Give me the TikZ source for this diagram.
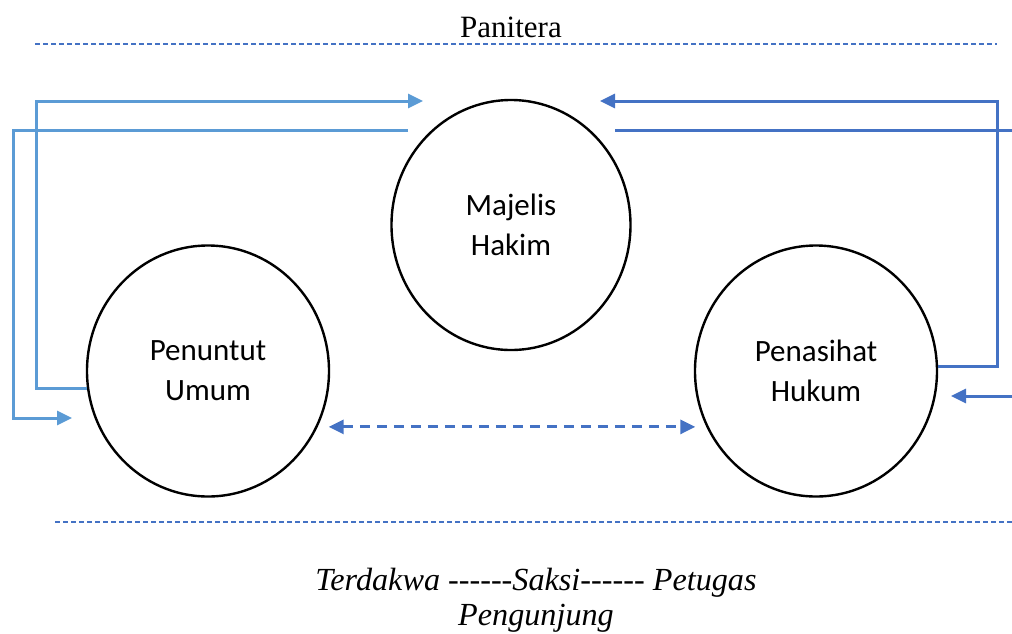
\documentclass[tikz,border=0pt]{standalone}
\usepackage{fontspec}
\setmainfont{Liberation Serif}[Ligatures=TeXOff]
\newfontfamily\carlito{Carlito}
\usetikzlibrary{shapes.geometric,arrows.meta,calc}
\definecolor{lblue}{HTML}{5B9BD5}
\definecolor{dblue}{HTML}{4472C4}
\tikzset{
  party/.style={ellipse, draw=black, line width=2.4pt, minimum width=242pt, minimum height=251pt, inner sep=0pt, align=center, font=\carlito\fontsize{31}{40}\selectfont},
  lconn/.style={draw=lblue, line width=3pt},
  rconn/.style={draw=dblue, line width=3pt},
  tip/.style={-{Triangle[length=15pt,width=14pt]}},
  sepline/.style={draw=dblue, line width=1.2pt, dash pattern=on 5pt off 3pt},
  dasharrow/.style={draw=dblue, line width=3pt, dash pattern=on 10pt off 7pt, {Triangle[length=15pt,width=14pt]}-{Triangle[length=15pt,width=14pt]}, shorten <=11pt, shorten >=11pt},
  label/.style={font=\fontsize{31}{35}\selectfont, inner sep=0pt, anchor=base},
  btext/.style={label, font=\itshape\fontsize{32.2}{35}\selectfont}
}
\begin{document}
\begin{tikzpicture}[x=1pt,y=-1pt]
\useasboundingbox (0,0) rectangle (1012,633);
% title and separators
\node[label] (panitera) at (511,37) {Panitera};
\coordinate (s1a) at (35,44);
\coordinate (s1b) at (997,44);
\draw[sepline] (s1a) -- (s1b);
\coordinate (s2a) at (55,522);
\coordinate (s2b) at (1012,522);
\draw[sepline] (s2a) -- (s2b);
% parties
\node[party, minimum width=239pt, minimum height=250pt] (mh) at (511,225) {Majelis\\Hakim};
\node[party] (pu) at (208,371) {Penuntut\\Umum};
\node[party] (pe) at (816,371) {Penasihat\\Hukum};
% left connectors
\coordinate (xa) at (36,0);
\coordinate (a1) at (423,101);
\draw[lconn,tip] (pu.188) -- (pu.188 -| xa) |- (a1);
\coordinate (b0) at (408,130);
\coordinate (xb) at (13,0);
\coordinate (b1) at (72,418);
\draw[lconn,tip] (b0) -- (b0 -| xb) |- (b1);
% right connectors
\coordinate (xc) at (997,0);
\coordinate (c1) at (600,101);
\draw[rconn,tip] (pe.2) -- (pe.2 -| xc) |- (c1);
\coordinate (d0) at (615,130);
\coordinate (d1) at (1012,130);
\draw[rconn] (d0) -- (d1);
\coordinate (e0) at (1012,396);
\coordinate (e1) at (951,396);
\draw[rconn,tip] (e0) -- (e1);
% dashed two-way arrow
\draw[dasharrow] (pu.-27.4) -- (pe.207.4);
% bottom text
\node[btext] (bt1) at (536,590) {Terdakwa ------Saksi------ Petugas};
\node[btext] (bt2) at (536,625) {Pengunjung};
\end{tikzpicture}
\end{document}
